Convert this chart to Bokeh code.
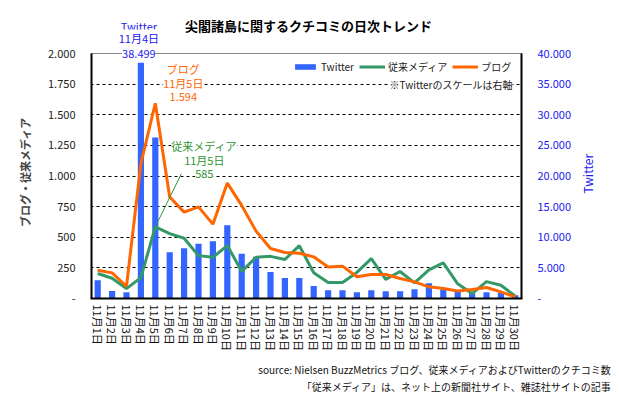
import math
from bokeh.plotting import figure
from bokeh.layouts import column
from bokeh.models import (FactorRange, Range1d, LinearAxis, FixedTicker, Label, Title,
                          ColumnDataSource)
from bokeh.embed import file_html
from bokeh.resources import INLINE

# ---------------- data ----------------
days = ["11月1日", "11月2日", "11月3日", "11月4日", "11月5日", "11月6日", "11月7日",
        "11月8日", "11月9日", "11月10日", "11月11日", "11月12日", "11月13日", "11月14日",
        "11月15日", "11月16日", "11月17日", "11月18日", "11月19日", "11月20日", "11月21日",
        "11月22日", "11月23日", "11月24日", "11月25日", "11月26日", "11月27日", "11月28日",
        "11月29日", "11月30日"]
twitter = [2990, 1240, 1030, 38499, 26300, 7560, 8210, 8920, 9360, 11970, 7290, 6800,
           4340, 3360, 3360, 2060, 1360, 1360, 1030, 1360, 1190, 1190, 1520, 2500, 1470,
           1080, 1000, 1030, 900, 540]
media = [204, 165, 81, 170, 585, 530, 492, 350, 336, 432, 222, 337, 344, 318, 432, 210,
         130, 130, 213, 326, 156, 220, 128, 234, 290, 120, 40, 138, 108, 19]
blog = [231, 209, 100, 1100, 1594, 828, 705, 748, 607, 942, 760, 550, 408, 376, 370,
        340, 258, 264, 177, 196, 196, 163, 136, 95, 82, 62, 74, 90, 54, 13]

left_ticks = [0, 250, 500, 750, 1000, 1250, 1500, 1750, 2000]
left_tick_labels = ["-", "250", "500", "750", "1.000", "1.250", "1.500", "1.750", "2.000"]
right_ticks = [0, 5000, 10000, 15000, 20000, 25000, 30000, 35000, 40000]
right_tick_labels = ["-", "5.000", "10.000", "15.000", "20.000", "25.000", "30.000",
                     "35.000", "40.000"]
grid_ticks = [250, 500, 750, 1000, 1250, 1500, 1750]
left_max = 2000
right_max = 40000

title_text = "尖閣諸島に関するクチコミの日次トレンド"
left_label = "ブログ・従来メディア"
right_label = "Twitter"
series_names = ["Twitter", "従来メディア", "ブログ"]
note_text = "※Twitterのスケールは右軸"
source_lines = ["source: Nielsen BuzzMetrics ブログ、従来メディアおよびTwitterのクチコミ数",
                "「従来メディア」は、ネット上の新聞社サイト、雑誌社サイトの記事"]

# ---------------- layout / styles ----------------
FONT = "Noto Sans CJK JP"
C_BAR = "#3366ff"
C_MEDIA = "#339966"
C_BLOG = "#ff6600"
C_TW_TEXT = "#1a1aee"
C_MEDIA_TEXT = "#2f9433"

W = 619
TOP_H = 45            # strip above the plot frame (title + annotation)
BOT_H = 37            # strip with the source lines
MAIN_H = 396 - TOP_H - BOT_H
B_LEFT, B_RIGHT = 90, 97
FH = 253              # frame height
B_BOTTOM = MAIN_H - FH
FW = W - B_LEFT - B_RIGHT                 # 432
AXIS_GAP = 8                              # px between frame top and the 2000 line
y_top = left_max * FH / (FH - AXIS_GAP)
tw_top = right_max * FH / (FH - AXIS_GAP)
px_left = y_top / FH                      # data units per px (left scale)

x_range = FactorRange(*days, range_padding=0)

# ---------------- main figure ----------------
p = figure(width=W, height=MAIN_H, x_range=x_range, y_range=Range1d(0, y_top),
           output_backend="svg", toolbar_location=None,
           min_border_left=B_LEFT, min_border_right=B_RIGHT, min_border_top=0,
           min_border_bottom=B_BOTTOM, title=None)
p.extra_y_ranges = {"tw": Range1d(0, tw_top)}
p.outline_line_color = None
p.xgrid.visible = False
p.ygrid.ticker = FixedTicker(ticks=grid_ticks)
p.ygrid.grid_line_color = "black"
p.ygrid.grid_line_dash = "3 3"
p.ygrid.grid_line_width = 1

ya = p.yaxis[0]
ya.ticker = FixedTicker(ticks=left_ticks)
ya.major_label_overrides = dict(zip(left_ticks, left_tick_labels))
ya.axis_label = left_label
ya.axis_label_text_font = FONT
ya.axis_label_text_font_size = "11px"
ya.axis_label_text_font_style = "bold"
ya.axis_label_standoff = 12
ya.major_label_text_font = FONT
ya.major_label_text_font_size = "11px"
ya.major_label_text_color = "#222222"
ya.major_label_standoff = 15
ya.major_tick_in = ya.major_tick_out = 0
ya.minor_tick_in = ya.minor_tick_out = 0
ya.axis_line_color = None

ra = LinearAxis(y_range_name="tw", ticker=FixedTicker(ticks=right_ticks))
ra.major_label_overrides = dict(zip(right_ticks, right_tick_labels))
ra.major_label_text_font = FONT
ra.major_label_text_font_size = "11px"
ra.major_label_text_color = C_TW_TEXT
ra.major_label_standoff = 15
ra.major_tick_in = ra.major_tick_out = 0
ra.minor_tick_in = ra.minor_tick_out = 0
ra.axis_line_color = None
p.add_layout(ra, "right")

# right-hand axis title, drawn reading bottom-to-top
tw_label_bottom_px = 105      # px above frame bottom where the text starts
tw_label_pos = round(tw_top * tw_label_bottom_px / FH)
ra2 = LinearAxis(y_range_name="tw", ticker=FixedTicker(ticks=[tw_label_pos]))
ra2.major_label_overrides = {tw_label_pos: right_label}
ra2.major_label_orientation = math.pi / 2
ra2.major_label_text_font = FONT
ra2.major_label_text_font_size = "12px"
ra2.major_label_text_color = C_TW_TEXT
ra2.major_label_standoff = 13
ra2.major_tick_in = ra2.major_tick_out = 0
ra2.minor_tick_in = ra2.minor_tick_out = 0
ra2.axis_line_color = None
p.add_layout(ra2, "right")

xa = p.xaxis[0]
xa.major_label_orientation = "vertical"
xa.major_label_text_font = FONT
xa.major_label_text_font_size = "11px"
xa.major_label_text_color = "#111111"
xa.major_label_standoff = 6
xa.major_tick_in = xa.major_tick_out = 0
xa.axis_line_width = 2
xa.axis_line_color = "black"

src = ColumnDataSource(dict(day=days, tw=twitter, media=media, blog=blog))
p.vbar(x="day", top="tw", width=0.43, source=src, y_range_name="tw",
       fill_color=C_BAR, line_color=None, legend_label=series_names[0])
p.line(x="day", y="media", source=src, line_color=C_MEDIA, line_width=3,
       legend_label=series_names[1])
p.line(x="day", y="blog", source=src, line_color=C_BLOG, line_width=3,
       legend_label=series_names[2])

# frame: top border at 2000 (grey) and the two vertical axis lines
n = len(days)
p.segment(x0=[0], y0=[left_max], x1=[n], y1=[left_max], line_color="#888888",
          line_width=1)
p.segment(x0=[0, n], y0=[0, 0], x1=[0, n], y1=[left_max, left_max], line_color="black",
          line_width=4)

lg = p.legend[0]
lg.orientation = "horizontal"
lg.location = (202, 224)
lg.background_fill_alpha = 0
lg.border_line_alpha = 0
lg.padding = 0
lg.margin = 0
lg.glyph_width = 26
lg.glyph_height = 7
lg.label_height = 12
lg.label_standoff = 3
lg.spacing = 5
lg.label_text_font = FONT
lg.label_text_font_size = "10px"
lg.label_text_color = "#222222"


def fmt(v):
    return f"{v:,}".replace(",", ".")


def add_lines(fig, lines, x, y, y_range, color, x_off, y_offs, y_units="data"):
    for t, yo in zip(lines, y_offs):
        fig.add_layout(Label(x=x, y=y, y_range_name=y_range, y_units=y_units, text=t,
                             text_font=FONT, text_font_size="11px", text_color=color,
                             text_align="center", text_baseline="middle", x_offset=x_off,
                             y_offset=yo, background_fill_color="white"))


i_tw = twitter.index(max(twitter))
i_bl = blog.index(max(blog))
i_md = media.index(max(media))

# Twitter peak value just above its bar (inside the frame)
add_lines(p, [fmt(twitter[i_tw])], i_tw + 0.5, twitter[i_tw], "tw", C_TW_TEXT, -2, [9])
# blog peak annotation
add_lines(p, [series_names[2], days[i_bl], fmt(blog[i_bl])], i_bl + 0.5, blog[i_bl],
          "default", C_BLOG, 28, [34, 20, 6])
# media peak annotation with leader line
add_lines(p, [series_names[1], days[i_md], fmt(media[i_md])], i_md + 0.5, media[i_md],
          "default", C_MEDIA_TEXT, 49, [81, 67, 53])
lead_dx, lead_dy = 26, 53  # px
p.segment(x0=[i_md + 0.5], y0=[media[i_md]],
          x1=[i_md + 0.5 + lead_dx * n / FW], y1=[media[i_md] + lead_dy * px_left],
          line_color=C_MEDIA_TEXT, line_width=1)

p.add_layout(Label(x=422, y=214.5, x_units="screen", y_units="screen", text=note_text,
                   text_font=FONT, text_font_size="10px", text_color="#222222",
                   text_align="right", text_baseline="middle",
                   background_fill_color="white"))

# ---------------- top strip: title + upper annotation lines ----------------
pt = figure(width=W, height=TOP_H, x_range=x_range, y_range=Range1d(0, 1),
            output_backend="svg", toolbar_location=None, x_axis_type=None,
            y_axis_type=None, min_border_left=B_LEFT, min_border_right=B_RIGHT,
            min_border_top=0, min_border_bottom=0, title=None)
pt.outline_line_color = None
pt.grid.visible = False
pt.add_layout(Label(x=FW / 2 + 2, y=20, x_units="screen", y_units="screen",
                    text=title_text, text_font=FONT, text_font_size="13px",
                    text_font_style="bold", text_color="black", text_align="center",
                    text_baseline="middle"))
add_lines(pt, [series_names[0], days[i_tw]], i_tw + 0.5, 0, "default", C_TW_TEXT, -2,
          [20, 8], y_units="screen")

# ---------------- bottom strip: source lines (stacked titles) ----------------
pb = figure(width=W, height=BOT_H, x_range=Range1d(0, 1), y_range=Range1d(0, 1),
            output_backend="svg", toolbar_location=None, x_axis_type=None,
            y_axis_type=None, min_border_left=B_LEFT, min_border_right=B_RIGHT,
            min_border_top=0, min_border_bottom=0, title=None)
pb.outline_line_color = None
pb.grid.visible = False
for t in reversed(source_lines):   # first added sits next to the (tiny) frame
    pb.add_layout(Title(text=t, align="right", offset=-(611 - (W - B_RIGHT)),
                        standoff=0, text_font=FONT, text_font_size="10px",
                        text_font_style="normal", text_color="#111111"), "above")

layout = column(pt, p, pb, spacing=0)
open("out.html", "w").write(file_html(layout, INLINE))
